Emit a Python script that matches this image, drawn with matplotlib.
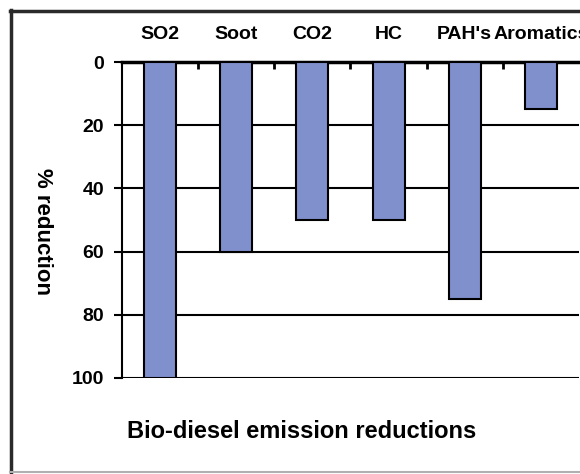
import matplotlib
matplotlib.use("Agg")
import matplotlib.pyplot as plt
from matplotlib.lines import Line2D
import numpy as np

categories = ["SO2", "Soot", "CO2", "HC", "PAH's", "Aromatics"]
reductions = [100, 60, 50, 50, 75, 15]
yticks = [0, 20, 40, 60, 80, 100]
title = "Bio-diesel emission reductions"
ylabel = "% reduction"

plt.rcParams['font.family'] = ['Liberation Sans', 'DejaVu Sans']
plt.rcParams['font.weight'] = 'bold'

W, H = 580, 474
fig = plt.figure(figsize=(W / 100, H / 100), dpi=100)
fig.patch.set_facecolor('white')

def fx(px):
    return px / W

def fy(py):
    return 1 - py / H

# outer frame: dark left and top edges, light bottom edge
fig.add_artist(Line2D([fx(11), fx(11)], [fy(10), fy(474)], transform=fig.transFigure, color='#2a2a2a', lw=2.5))
fig.add_artist(Line2D([fx(10), fx(580)], [fy(11), fy(11)], transform=fig.transFigure, color='#2a2a2a', lw=2.5))
fig.add_artist(Line2D([fx(10), fx(580)], [fy(472), fy(472)], transform=fig.transFigure, color='#b0b0b0', lw=1.5))

ax = fig.add_axes([fx(122), fy(378), fx(579) - fx(122), (378 - 62) / H])
x = np.arange(len(categories))
ax.bar(x, reductions, width=0.42, color='#8090cc', edgecolor='black', linewidth=1.5, zorder=3)

ax.set_xlim(-0.5, len(categories) - 0.5)
ax.set_ylim(100, 0)
ax.set_yticks(yticks)
ax.set_yticklabels([str(v) for v in yticks], fontsize=14, fontweight='bold')
ax.yaxis.grid(True, color='black', lw=1.5, zorder=1)
ax.tick_params(axis='y', length=6, width=1.5, pad=7)

ax.xaxis.tick_top()
ax.set_xticks(x)
ax.set_xticklabels(categories, fontsize=14, fontweight='bold')
ax.tick_params(axis='x', length=0, pad=14)
ax.set_xticks(np.arange(0.5, len(categories) - 1, 1), minor=True)
ax.tick_params(axis='x', which='minor', direction='in', length=5, width=2, top=True, bottom=False)

for s in ['right', 'bottom']:
    ax.spines[s].set_visible(False)
ax.spines['left'].set_linewidth(1.5)
ax.spines['top'].set_linewidth(2.5)

fig.text(fx(42), fy(232), ylabel, rotation=270, ha='center', va='center', fontsize=16, fontweight='bold')
fig.text(fx(302), fy(432), title, ha='center', va='center', fontsize=17, fontweight='bold')

fig.savefig("out.png", dpi=100)
